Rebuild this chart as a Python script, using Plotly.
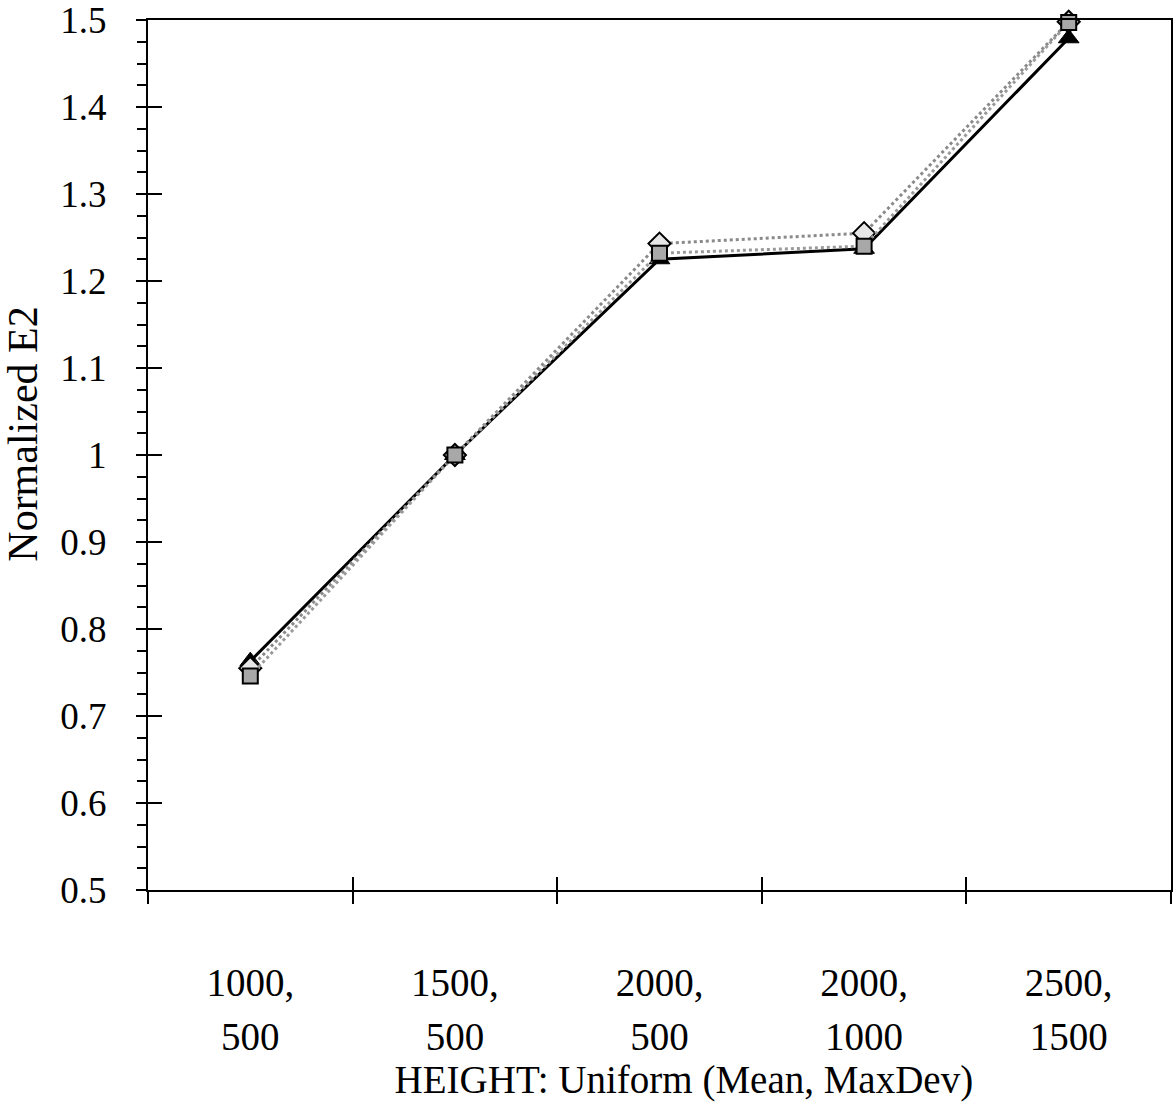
import plotly.graph_objects as go

categories = ["1000,\n500", "1500,\n500", "2000,\n500", "2000,\n1000", "2500,\n1500"]
line1 = ["1000,", "1500,", "2000,", "2000,", "2500,"]
line2 = ["500", "500", "500", "1000", "1500"]
triangle_vals = [0.763, 1.0, 1.225, 1.237, 1.479]
diamond_vals = [0.755, 1.0, 1.243, 1.255, 1.498]
square_vals = [0.746, 1.0, 1.232, 1.240, 1.497]
y_ticks = [0.5, 0.6, 0.7, 0.8, 0.9, 1.0, 1.1, 1.2, 1.3, 1.4, 1.5]
y_ticktext = ["0.5", "0.6", "0.7", "0.8", "0.9", "1", "1.1", "1.2", "1.3", "1.4", "1.5"]

xs = list(range(len(categories)))
bounds = [i - 0.5 for i in range(len(categories) + 1)]
FONT = "Liberation Serif"

fig = go.Figure()
fig.add_trace(go.Scatter(x=xs, y=triangle_vals, mode="lines+markers", cliponaxis=False,
                         line=dict(color="black", width=3),
                         marker=dict(symbol="triangle-up", size=18, color="black",
                                     line=dict(color="black", width=1))))
fig.add_trace(go.Scatter(x=xs, y=diamond_vals, mode="lines+markers", cliponaxis=False,
                         line=dict(color="#8a8a8a", width=3, dash="dot"),
                         marker=dict(symbol="diamond", size=17, color="#e6e6e6",
                                     line=dict(color="black", width=2))))
fig.add_trace(go.Scatter(x=xs, y=square_vals, mode="lines+markers", cliponaxis=False,
                         line=dict(color="#9a9a9a", width=3, dash="dot"),
                         marker=dict(symbol="square", size=15, color="#a8a8a8",
                                     line=dict(color="black", width=2))))
# invisible anchors for overlay axes
for ax in ["x2", "x3", "x4"]:
    fig.add_trace(go.Scatter(x=[xs[0]], y=[y_ticks[0]], xaxis=ax, mode="markers",
                             marker=dict(opacity=0), hoverinfo="skip"))
fig.add_trace(go.Scatter(x=[xs[0]], y=[y_ticks[0]], yaxis="y2", mode="markers",
                         marker=dict(opacity=0), hoverinfo="skip"))

xr = [bounds[0], bounds[-1]]
fig.update_layout(
    width=1174, height=1102,
    margin=dict(l=148, r=3, t=20, b=212),
    paper_bgcolor="white", plot_bgcolor="white",
    showlegend=False,
    font=dict(family=FONT, size=38, color="black"),
    xaxis=dict(range=xr, showgrid=False, zeroline=False, automargin=False,
               showline=True, linecolor="black", linewidth=2, mirror=True,
               tickmode="array", tickvals=bounds, ticks="outside", ticklen=12,
               tickwidth=2, tickcolor="black", showticklabels=False),
    xaxis2=dict(range=xr, overlaying="x", anchor="y", side="bottom", automargin=False,
                showgrid=False, zeroline=False, showline=False,
                tickmode="array", tickvals=bounds, ticks="inside", ticklen=13,
                tickwidth=2, tickcolor="black", showticklabels=False),
    xaxis3=dict(range=xr, overlaying="x", anchor="y", side="bottom", automargin=False,
                showgrid=False, zeroline=False, showline=False,
                tickmode="array", tickvals=xs, ticktext=line1, ticks="",
                ticklabelstandoff=66, tickfont=dict(size=39)),
    xaxis4=dict(range=xr, overlaying="x", anchor="y", side="bottom", automargin=False,
                showgrid=False, zeroline=False, showline=False,
                tickmode="array", tickvals=xs, ticktext=line2, ticks="",
                ticklabelstandoff=120, tickfont=dict(size=39),
                title=dict(text="&nbsp;&nbsp;&nbsp;&nbsp;&nbsp;HEIGHT: Uniform (Mean, MaxDev)",
                           standoff=8, font=dict(size=39))),
    yaxis=dict(range=[0.5, 1.5], showgrid=False, zeroline=False, automargin=False,
               showline=True, linecolor="black", linewidth=2, mirror=True,
               tickmode="array", tickvals=y_ticks, ticktext=y_ticktext,
               ticks="outside", ticklen=10, tickwidth=2, tickcolor="black",
               ticklabelstandoff=22, tickfont=dict(size=37),
               ticklabeloverflow="allow",
               minor=dict(dtick=0.025, tick0=0.5, ticks="outside", ticklen=9,
                          tickwidth=2, tickcolor="black", showgrid=False),
               title=dict(text="&nbsp;&nbsp;&nbsp;&nbsp;Normalized E2", standoff=18,
                          font=dict(size=42))),
    yaxis2=dict(range=[0.5, 1.5], overlaying="y", anchor="x", side="left", automargin=False,
                showgrid=False, zeroline=False, showline=False,
                tickmode="array", tickvals=y_ticks, ticks="inside", ticklen=14,
                tickwidth=2, tickcolor="black", showticklabels=False),
)

fig.write_html("out.html")
